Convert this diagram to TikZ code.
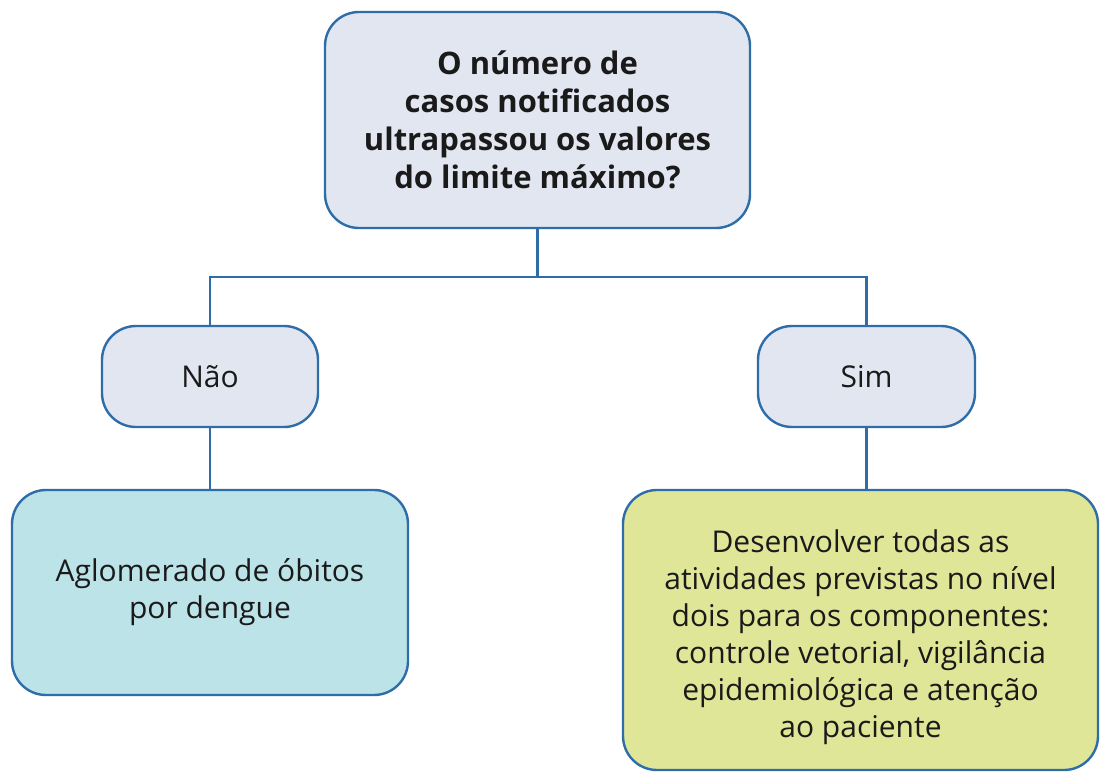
\documentclass[tikz,border=0pt]{standalone}
\usepackage{fontspec}
\setmainfont{Open Sans}
\definecolor{bblue}{HTML}{2E6DA8}
\definecolor{lgray}{HTML}{E2E6F0}
\definecolor{lcyan}{HTML}{BCE3E8}
\definecolor{lgreen}{HTML}{DFE697}
\definecolor{txt}{HTML}{1A1A1A}
\begin{document}
\begin{tikzpicture}[x=1pt,y=-1pt,
  box/.style={draw=bblue, line width=2.4pt, rounded corners=34pt, align=center, inner sep=0pt, text=txt},
  conn/.style={draw=bblue, line width=2.2pt},
  bodyfont/.style={font=\fontsize{30}{37}\selectfont}]
\useasboundingbox (0,0) rectangle (1105,774);
\node[box, fill=lgray, minimum width=425pt, minimum height=216pt, font=\bfseries\fontsize{31}{38}\selectfont] (q) at (537.5,120)
  {O número de\\casos notificados\\ultrapassou os valores\\do limite máximo?};
\node[box, fill=lgray, minimum width=216pt, minimum height=101pt, bodyfont] (nao) at (210,376.5) {Não};
\node[box, fill=lgray, minimum width=217pt, minimum height=101pt, bodyfont] (sim) at (866.5,376.5) {Sim};
\node[box, fill=lcyan, minimum width=396pt, minimum height=205pt, bodyfont] (agl) at (210,592.5)
  {Aglomerado de óbitos\\por dengue};
\node[box, fill=lgreen, minimum width=475pt, minimum height=280pt] (des) at (860.5,630) {};
\node[align=center, inner sep=0pt, text=txt, bodyfont] (destxt) at ([yshift=-7pt]des.center)
  {Desenvolver todas as\\atividades previstas no nível\\dois para os componentes:\\controle vetorial, vigilância\\epidemiológica e atenção\\ao paciente};
\coordinate (j) at (537.5,277);
\draw[conn] (q.south) -- (j);
\draw[conn] (nao.north) |- (j) -| (sim.north);
\draw[conn] (nao.south) -- (agl.north);
\draw[conn] (sim.south) -- (sim.south |- des.north);
\end{tikzpicture}
\end{document}
